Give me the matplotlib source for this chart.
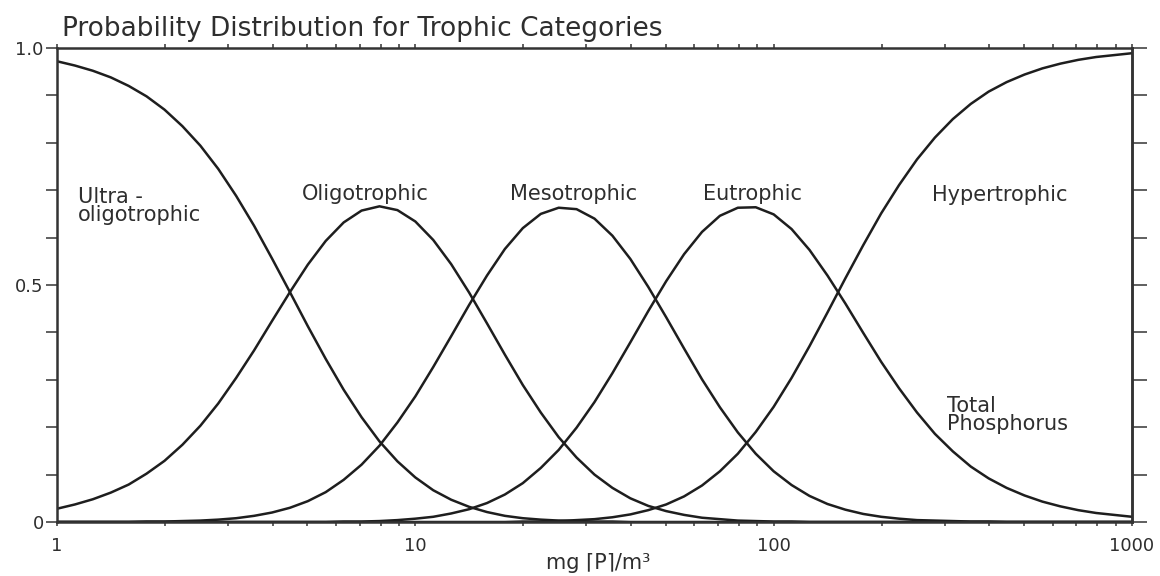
import numpy as np
import matplotlib
matplotlib.use("Agg")
import matplotlib.pyplot as plt
from matplotlib.ticker import LogLocator, NullFormatter

# total phosphorus, mg P/m3 (log axis)
tp = [1.0, 1.122, 1.259, 1.413, 1.585, 1.778, 1.995, 2.239, 2.512, 2.818,
      3.162, 3.548, 3.981, 4.467, 5.012, 5.623, 6.310, 7.079, 7.943, 8.913,
      10.0, 11.22, 12.59, 14.13, 15.85, 17.78, 19.95, 22.39, 25.12, 28.18,
      31.62, 35.48, 39.81, 44.67, 50.12, 56.23, 63.10, 70.79, 79.43, 89.13,
      100.0, 112.2, 125.9, 141.3, 158.5, 177.8, 199.5, 223.9, 251.2, 281.8,
      316.2, 354.8, 398.1, 446.7, 501.2, 562.3, 631.0, 707.9, 794.3, 891.3,
      1000.0]

# probabilities
ultra = [0.972, 0.963, 0.952, 0.938, 0.920, 0.898, 0.870, 0.835, 0.794, 0.745,
         0.688, 0.625, 0.556, 0.485, 0.413, 0.344, 0.279, 0.221, 0.170, 0.128,
         0.094, 0.067, 0.047, 0.032, 0.021, 0.013, 0.008, 0.005, 0.003, 0.002,
         0.001, 0.001, 0, 0, 0, 0, 0, 0, 0, 0,
         0, 0, 0, 0, 0, 0, 0, 0, 0, 0,
         0, 0, 0, 0, 0, 0, 0, 0, 0, 0,
         0]
oligo = [0.028, 0.037, 0.048, 0.062, 0.079, 0.102, 0.129, 0.163, 0.203, 0.250,
         0.304, 0.362, 0.424, 0.485, 0.543, 0.593, 0.632, 0.657, 0.666, 0.658,
         0.634, 0.595, 0.544, 0.484, 0.419, 0.353, 0.289, 0.231, 0.179, 0.136,
         0.100, 0.072, 0.050, 0.034, 0.023, 0.015, 0.009, 0.006, 0.003, 0.002,
         0.001, 0.001, 0, 0, 0, 0, 0, 0, 0, 0,
         0, 0, 0, 0, 0, 0, 0, 0, 0, 0,
         0]
meso = [0, 0, 0, 0, 0, 0.001, 0.001, 0.002, 0.003, 0.005,
        0.008, 0.013, 0.020, 0.030, 0.044, 0.063, 0.089, 0.121, 0.161, 0.210,
        0.265, 0.327, 0.392, 0.458, 0.520, 0.576, 0.620, 0.650, 0.663, 0.660,
        0.640, 0.604, 0.555, 0.496, 0.432, 0.366, 0.301, 0.242, 0.189, 0.144,
        0.107, 0.078, 0.055, 0.038, 0.026, 0.017, 0.011, 0.007, 0.004, 0.003,
        0.002, 0.001, 0.001, 0, 0, 0, 0, 0, 0, 0,
        0]
eutro = [0, 0, 0, 0, 0, 0, 0, 0, 0, 0,
         0, 0, 0, 0, 0, 0, 0.001, 0.001, 0.002, 0.004,
         0.007, 0.011, 0.018, 0.027, 0.040, 0.058, 0.082, 0.114, 0.152, 0.199,
         0.253, 0.314, 0.379, 0.445, 0.508, 0.565, 0.612, 0.646, 0.663, 0.664,
         0.649, 0.618, 0.574, 0.520, 0.461, 0.399, 0.338, 0.282, 0.231, 0.186,
         0.149, 0.117, 0.092, 0.072, 0.056, 0.043, 0.033, 0.025, 0.019, 0.015,
         0.011]
hyper = [0, 0, 0, 0, 0, 0, 0, 0, 0, 0,
         0, 0, 0, 0, 0, 0, 0, 0, 0, 0,
         0, 0, 0, 0, 0, 0, 0.001, 0.001, 0.002, 0.004,
         0.006, 0.010, 0.016, 0.025, 0.037, 0.054, 0.077, 0.107, 0.144, 0.190,
         0.243, 0.304, 0.371, 0.442, 0.514, 0.584, 0.651, 0.711, 0.765, 0.811,
         0.850, 0.882, 0.908, 0.928, 0.944, 0.957, 0.967, 0.975, 0.981, 0.985,
         0.989]

# category labels: (text, x, y, ha)
labels = [("Ultra -\noligotrophic", 1.145, 0.667, "left"),
          ("Oligotrophic", 7.24, 0.692, "center"),
          ("Mesotrophic", 27.6, 0.692, "center"),
          ("Eutrophic", 87.1, 0.692, "center"),
          ("Hypertrophic", 428.0, 0.690, "center"),
          ("Total\nPhosphorus", 305.0, 0.226, "left")]

ink = '#1e1e1e'
txt = '#2e2e2e'

fig = plt.figure(figsize=(11.6, 5.76), dpi=100)
ax = fig.add_axes([57 / 1160, 54 / 576, 1075 / 1160, 474 / 576])

for ys in [ultra, oligo, meso, eutro, hyper]:
    ax.plot(tp, ys, color=ink, lw=1.8, solid_joinstyle='round')

ax.set_xscale('log')
ax.set_xlim(1, 1000)
ax.set_ylim(0, 1)

ax.set_xticks([1, 10, 100, 1000])
ax.set_xticklabels(['1', '10', '100', '1000'])
ax.xaxis.set_minor_locator(LogLocator(base=10, subs=np.arange(2, 10)))
ax.xaxis.set_minor_formatter(NullFormatter())
ax.set_yticks([0, 0.5, 1.0])
ax.set_yticklabels(['0', '0.5', '1.0'])
ax.set_yticks(np.linspace(0, 1, 11), minor=True)

for s in ax.spines.values():
    s.set_linewidth(1.8)
    s.set_color('#333333')

ax.tick_params(axis='x', which='both', top=True, bottom=True, direction='out',
               length=3, width=1.2, color='#444444', pad=8,
               labelsize=13, labelcolor=txt)
ax.tick_params(axis='y', which='both', left=True, right=False, direction='out',
               length=8, width=1.2, color='#444444', pad=1.5,
               labelsize=13, labelcolor=txt)

sec = ax.secondary_yaxis('right')
sec.set_yticks(np.linspace(0, 1, 11))
sec.set_yticklabels([])
sec.tick_params(direction='out', length=11, width=1.2, color='#444444')
sec.spines['right'].set_linewidth(1.8)
sec.spines['right'].set_color('#333333')

for text, x, y, ha in labels:
    ax.text(x, y, text, ha=ha, va='center', fontsize=15, color=txt,
            linespacing=0.85)

fig.text(62 / 1160, 1 - 36 / 576, "Probability Distribution for Trophic Categories",
         fontsize=19, color=txt, ha='left', va='baseline')
fig.text(598 / 1160, 1 - 563 / 576, "mg ⌈P⌉/m³", fontsize=15, color=txt,
         ha='center', va='center')

fig.savefig("out.png", dpi=100, facecolor='white')
